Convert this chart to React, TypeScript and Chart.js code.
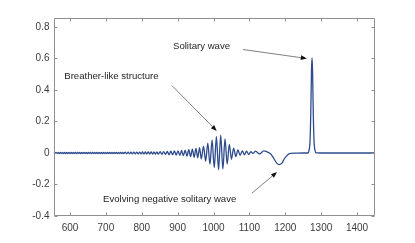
import { useEffect, useRef } from "react";
import { Chart, registerables } from "chart.js";

Chart.register(...registerables);

const xTicks = [600, 700, 800, 900, 1000, 1100, 1200, 1300, 1400];
const yTicks = [-0.4, -0.2, 0, 0.2, 0.4, 0.6, 0.8];

// small fringe ripples on the left
const fringeX = [
  555, 558, 561, 564, 567, 570, 573, 576, 579, 582, 585, 588, 591, 594, 597, 600, 603, 606, 609, 612,
  615, 618, 621, 624, 627, 630, 633, 636, 639, 642, 645, 648, 651, 654, 657, 660, 663, 666, 669, 672,
  675, 678, 681, 684, 687, 690, 693, 696, 699, 702, 705, 708, 711, 714, 717, 720, 723, 726, 729, 732,
  735, 738, 741, 744, 747, 750,
  754, 758, 762, 766, 770, 774, 778, 782, 786, 790, 794, 798, 802, 806, 810, 814, 818, 822, 826, 830,
  834, 838, 842, 846,
];
const fringeY = [
  0.004, -0.004, 0.004, -0.004, 0.004, -0.004, 0.004, -0.004, 0.004, -0.004, 0.004, -0.004, 0.004, -0.004, 0.004, -0.004, 0.004, -0.004, 0.004, -0.004,
  0.004, -0.004, 0.004, -0.004, 0.004, -0.004, 0.004, -0.004, 0.004, -0.004, 0.004, -0.004, 0.004, -0.004, 0.004, -0.004, 0.004, -0.004, 0.004, -0.004,
  0.004, -0.004, 0.004, -0.004, 0.004, -0.004, 0.004, -0.004, 0.004, -0.004, 0.004, -0.004, 0.004, -0.004, 0.004, -0.004, 0.004, -0.004, 0.004, -0.004,
  0.004, -0.004, 0.004, -0.004, 0.004, -0.004,
  0.005, -0.005, 0.005, -0.005, 0.0055, -0.0055, 0.0055, -0.0055, 0.006, -0.006, 0.006, -0.006, 0.0065, -0.0065, 0.0065, -0.0065, 0.007, -0.007, 0.007, -0.007,
  0.0075, -0.0075, 0.0075, -0.0075,
];

// breather-like wave packet
const packetX = [
  851, 856, 861, 866, 871, 876, 881, 886, 891, 896, 901, 906, 911, 916, 921, 926, 931, 936, 941, 946,
  951, 956, 961, 966, 972, 978, 984, 990, 996, 1002, 1008, 1014, 1020, 1026, 1032, 1038, 1044, 1050, 1056, 1062,
  1068, 1074, 1080, 1086, 1092, 1098,
];
const packetY = [
  0.008, -0.008, 0.009, -0.009, 0.01, -0.011, 0.011, -0.012, 0.013, -0.013, 0.014, -0.015, 0.016, -0.017, 0.018, -0.02, 0.021, -0.023, 0.025, -0.027,
  0.029, -0.031, 0.034, -0.038, 0.044, -0.052, 0.062, -0.072, 0.083, -0.093, 0.103, -0.106, 0.114, -0.102, 0.09, -0.07, 0.055, -0.04, 0.031, -0.023,
  0.019, -0.015, 0.014, -0.012, 0.012, -0.01,
];

// tail, negative solitary wave and solitary wave
const tailX = [
  1104, 1110, 1117, 1128, 1140, 1151, 1160, 1168, 1176, 1183, 1190, 1198, 1206, 1215, 1230, 1250, 1263, 1266, 1269, 1271,
  1273, 1274.5, 1276, 1278, 1280, 1283, 1286, 1300, 1450,
];
const tailY = [
  0.008, -0.003, 0.012, -0.006, 0.013, 0.005, -0.008, -0.035, -0.064, -0.074, -0.066, -0.035, -0.012, -0.003, -0.001, 0, 0, 0.015, 0.08, 0.25,
  0.52, 0.605, 0.52, 0.25, 0.08, 0.015, 0.001, 0, 0,
];

const annotationTexts = ["Solitary wave", "Breather-like structure", "Evolving negative solitary wave"];
const textAnchorsX = [887, 584, 692];
const textAnchorsY = [0.676, 0.485, -0.294];
const arrowFromX = [1082, 884, 1107];
const arrowFromY = [0.657, 0.428, -0.255];
const arrowToX = [1260, 1009, 1177];
const arrowToY = [0.6, 0.14, -0.121];

const LINE_COLOR = "#2d4b8c";
const FRAME_COLOR = "#8f8f8f";
const TICK_TEXT = "#3c3c3c";
const FONT_FAMILY = "'Liberation Sans', Arial, Helvetica, sans-serif";

const framePlugin = {
  id: "frame",
  afterDatasetsDraw(chart: any) {
    const { ctx, chartArea } = chart;
    const { left, right, top, bottom } = chartArea;
    const xs = chart.scales.x;
    const ys = chart.scales.y;
    ctx.save();
    ctx.strokeStyle = FRAME_COLOR;
    ctx.lineWidth = 1;
    const L = Math.round(left) + 0.5;
    const R = Math.round(right) - 0.5;
    const T = Math.round(top) + 0.5;
    const B = Math.round(bottom) - 0.5;
    ctx.beginPath();
    ctx.rect(L, T, R - L, B - T);
    const tl = 3;
    xTicks.forEach((v) => {
      const p = Math.round(xs.getPixelForValue(v)) + 0.5;
      ctx.moveTo(p, B);
      ctx.lineTo(p, B - tl);
      ctx.moveTo(p, T);
      ctx.lineTo(p, T + tl);
    });
    yTicks.forEach((v) => {
      const p = Math.round(ys.getPixelForValue(v)) + 0.5;
      ctx.moveTo(L, p);
      ctx.lineTo(L + tl, p);
      ctx.moveTo(R, p);
      ctx.lineTo(R - tl, p);
    });
    ctx.stroke();
    ctx.restore();
  },
};

const annotationPlugin = {
  id: "notes",
  afterDraw(chart: any) {
    const { ctx } = chart;
    const xs = chart.scales.x;
    const ys = chart.scales.y;
    ctx.save();
    ctx.font = `9.6px ${FONT_FAMILY}`;
    ctx.fillStyle = "#1e1e1e";
    ctx.textAlign = "left";
    ctx.textBaseline = "middle";
    annotationTexts.forEach((t, i) => {
      ctx.fillText(t, xs.getPixelForValue(textAnchorsX[i]), ys.getPixelForValue(textAnchorsY[i]));
    });
    annotationTexts.forEach((_, i) => {
      const x1 = xs.getPixelForValue(arrowFromX[i]);
      const y1 = ys.getPixelForValue(arrowFromY[i]);
      const x2 = xs.getPixelForValue(arrowToX[i]);
      const y2 = ys.getPixelForValue(arrowToY[i]);
      const ang = Math.atan2(y2 - y1, x2 - x1);
      const hl = 6;
      const hw = 2.3;
      const bx = x2 - hl * Math.cos(ang);
      const by = y2 - hl * Math.sin(ang);
      ctx.strokeStyle = "#606060";
      ctx.lineWidth = 0.8;
      ctx.beginPath();
      ctx.moveTo(x1, y1);
      ctx.lineTo(bx, by);
      ctx.stroke();
      ctx.fillStyle = "#111";
      ctx.beginPath();
      ctx.moveTo(x2, y2);
      ctx.lineTo(bx + hw * Math.sin(ang), by - hw * Math.cos(ang));
      ctx.lineTo(bx - hw * Math.sin(ang), by + hw * Math.cos(ang));
      ctx.closePath();
      ctx.fill();
    });
    ctx.restore();
  },
};

export default function App() {
  const ref = useRef<HTMLCanvasElement>(null);
  useEffect(() => {
    const canvas = ref.current;
    if (!canvas) return;
    const allX = [...fringeX, ...packetX, ...tailX];
    const allY = [...fringeY, ...packetY, ...tailY];
    const points = allX.map((x, i) => ({ x, y: allY[i] }));
    const tickFont = { family: FONT_FAMILY, size: 10 };
    const chart = new Chart(canvas, {
      type: "line",
      data: {
        datasets: [
          {
            data: points,
            borderColor: LINE_COLOR,
            borderWidth: 1.3,
            pointRadius: 0,
            fill: false,
            cubicInterpolationMode: "monotone",
          },
        ],
      },
      options: {
        animation: false,
        responsive: false,
        maintainAspectRatio: false,
        layout: { padding: { left: 0, right: 40, top: 18, bottom: 0 } },
        plugins: { legend: { display: false }, tooltip: { enabled: false } },
        scales: {
          x: {
            type: "linear",
            min: 554,
            max: 1450,
            afterBuildTicks: (s: any) => {
              s.ticks = xTicks.map((v) => ({ value: v }));
            },
            afterFit: (s: any) => {
              s.height = 27;
            },
            grid: { display: false, drawTicks: false },
            border: { display: false },
            ticks: {
              padding: 6,
              font: tickFont,
              color: TICK_TEXT,
              maxRotation: 0,
              autoSkip: false,
              callback: (v: any) => String(v),
            },
          },
          y: {
            type: "linear",
            min: -0.4,
            max: 0.857,
            afterBuildTicks: (s: any) => {
              s.ticks = yTicks.map((v) => ({ value: v }));
            },
            afterFit: (s: any) => {
              s.width = 53.5;
            },
            grid: { display: false, drawTicks: false },
            border: { display: false },
            ticks: {
              padding: 4,
              font: tickFont,
              color: TICK_TEXT,
              autoSkip: false,
              callback: (v: any) => String(Math.round(Number(v) * 10) / 10),
            },
          },
        },
      },
      plugins: [framePlugin, annotationPlugin],
    } as any);
    return () => chart.destroy();
  }, []);
  return (
    <div style={{ position: "fixed", left: 0, top: 0, width: 415, height: 243, background: "#fff" }}>
      <canvas ref={ref} width={415} height={243} style={{ width: 415, height: 243, display: "block" }} />
    </div>
  );
}
